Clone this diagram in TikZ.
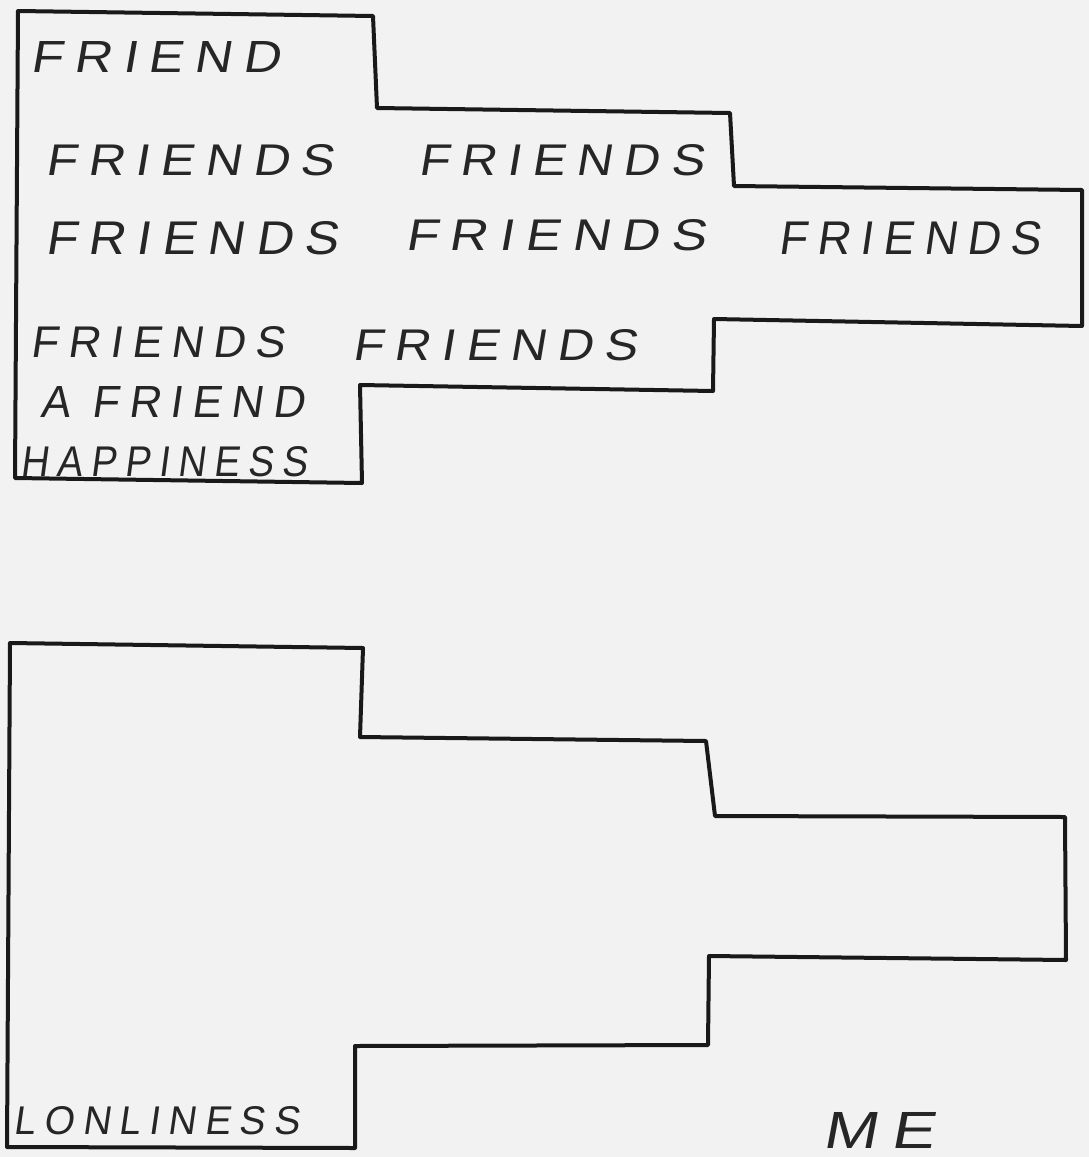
\documentclass[tikz,border=0pt]{standalone}
\usepackage{fontspec}
\usepackage{graphicx}
\newfontfamily\hand[LetterSpace=22,FakeSlant=0.15]{Liberation Sans}
\newcommand\hw[3]{\resizebox{#1pt}{#2pt}{\hand #3}}
\begin{document}
\begin{tikzpicture}[x=1pt,y=-1pt,
  outline/.style={draw=black!90,line width=4pt,line join=round,line cap=round},
  word/.style={anchor=base west,inner sep=0pt,text=black!85}]
\fill[black!5] (0,0) rectangle (1089,1157);
\useasboundingbox (0,0) rectangle (1089,1157);
% top stepped shape
\draw[outline] (18,11) -- (373,16) -- (377,108) -- (730,113) -- (734,186)
  -- (1082,190) -- (1082,326) -- (714,319) -- (713,391) -- (360,385)
  -- (362,483) -- (15,478) -- cycle;
% bottom stepped shape
\draw[outline] (10,643) -- (363,648) -- (360,737) -- (706,741) -- (715,816)
  -- (1065,817) -- (1066,960) -- (709,956) -- (708,1045) -- (355,1046)
  -- (355,1148) -- (7,1147) -- cycle;
% texts
\node[word] (t1) at (30,72) {\hw{250}{31}{FRIEND}};
\node[word] (t2a) at (45,175) {\hw{288}{31}{FRIENDS}};
\node[word] (t2b) at (418,175) {\hw{285}{31}{FRIENDS}};
\node[word] (t3a) at (45,254) {\hw{292}{33}{FRIENDS}};
\node[word] (t3b) at (405,250) {\hw{300}{31}{FRIENDS}};
\node[word] (t3c) at (778,254) {\hw{262}{33}{FRIENDS}};
\node[word] (t4a) at (30,357) {\hw{254}{31}{FRIENDS}};
\node[word] (t4b) at (352,360) {\hw{284}{31}{FRIENDS}};
\node[word] (t5) at (40,417) {\hw{264}{31}{A FRIEND}};
\node[word] (t6) at (20,476) {\hw{287}{30}{HAPPINESS}};
\node[word] (t7) at (13,1134) {\hw{286}{28}{LONLINESS}};
\node[word] (t8) at (822,1148) {\hw{112}{36}{ME}};
\end{tikzpicture}
\end{document}
